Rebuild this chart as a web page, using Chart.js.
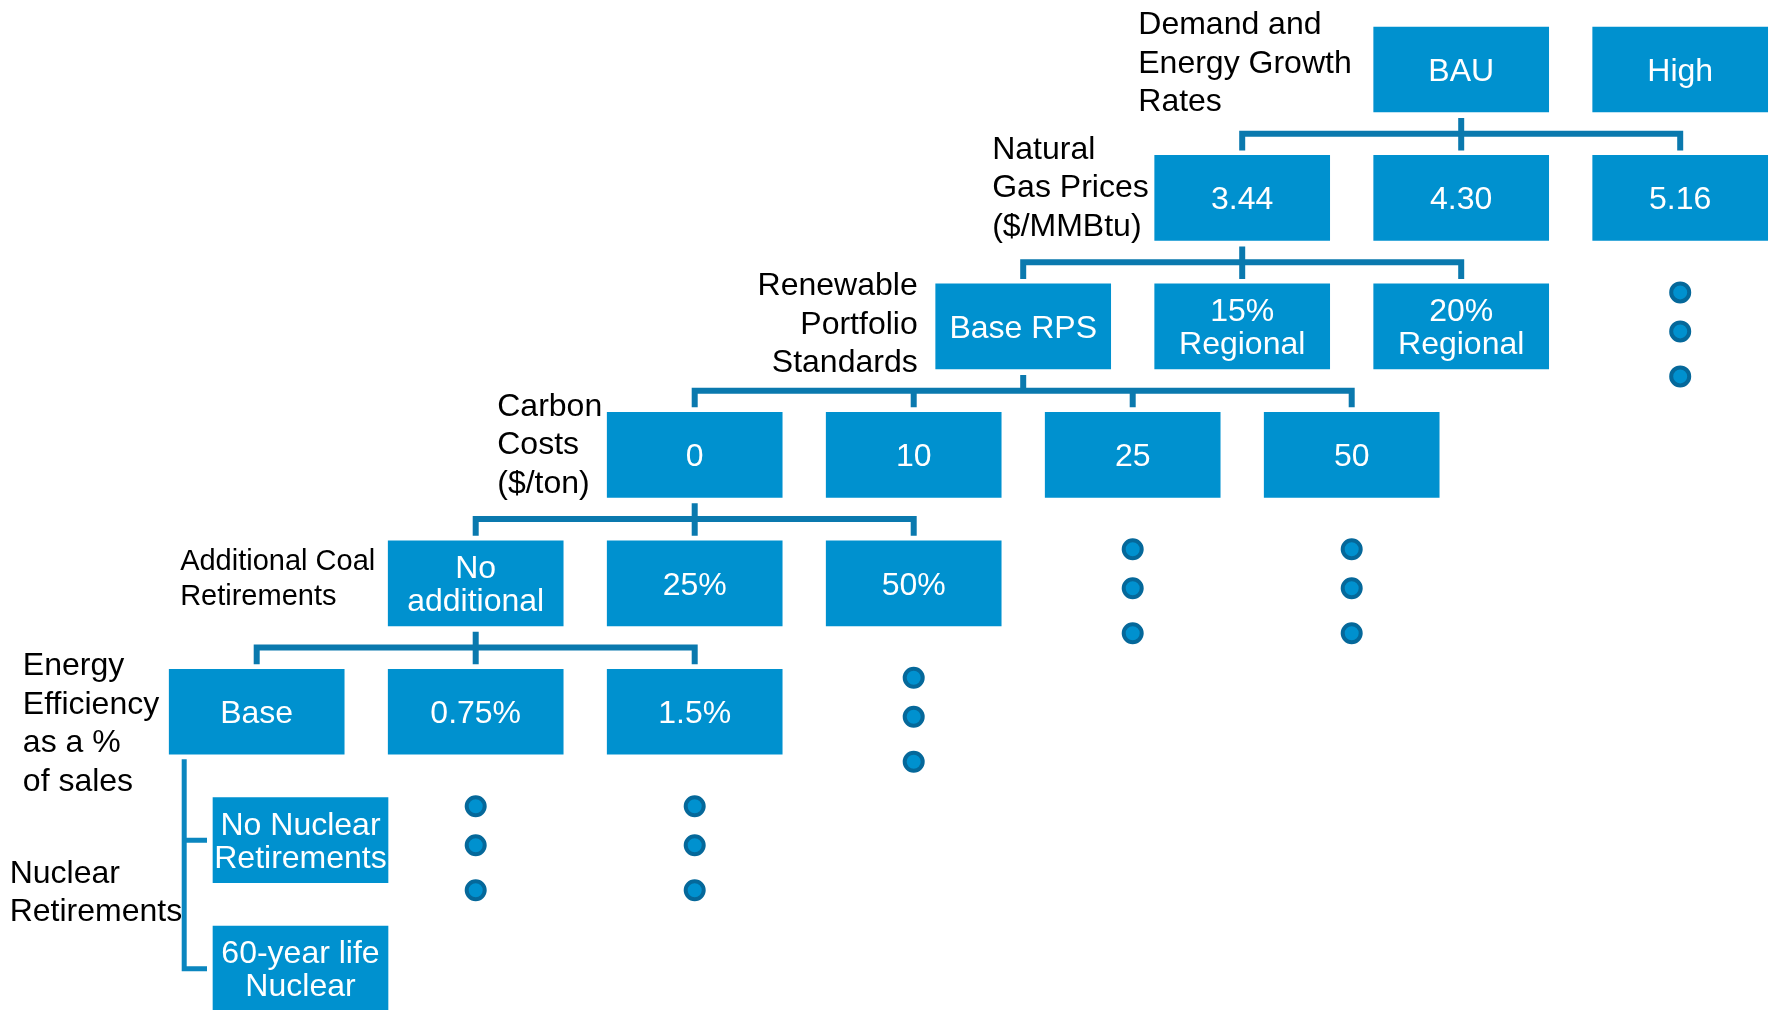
<!DOCTYPE html>
<html>
<head>
<meta charset="utf-8">
<title>Scenario tree</title>
<script src="https://cdn.jsdelivr.net/npm/chart.js@4.4.1/dist/chart.umd.min.js"></script>
<style>
  html, body { margin: 0; padding: 0; background: #fff; }
  #wrap { width: 1773px; height: 1010px; }
</style>
</head>
<body>
<div id="wrap"><canvas id="tree" width="1773" height="1010"></canvas></div>
<script>
// uncertainty dimensions, top to bottom
const levelTitles = [
  ["Demand and", "Energy Growth", "Rates"],
  ["Natural", "Gas Prices", "($/MMBtu)"],
  ["Renewable", "Portfolio", "Standards"],
  ["Carbon", "Costs", "($/ton)"],
  ["Additional Coal", "Retirements"],
  ["Energy", "Efficiency", "as a %", "of sales"],
];
const demandOptions = ["BAU", "High"];
const gasPriceOptions = ["3.44", "4.30", "5.16"];
const rpsOptions = ["Base RPS", "15%\nRegional", "20%\nRegional"];
const carbonOptions = ["0", "10", "25", "50"];
const coalOptions = ["No\nadditional", "25%", "50%"];
const efficiencyOptions = ["Base", "0.75%", "1.5%"];
const nuclearTitle = ["Nuclear", "Retirements"];
const nuclearOptions = ["No Nuclear\nRetirements", "60-year life\nNuclear"];

const levels = [demandOptions, gasPriceOptions, rpsOptions, carbonOptions, coalOptions, efficiencyOptions];

// ---- layout (grid units: one column / one row per step) ----
const FIRST_COL = 5.5;          // where the top row starts
const NUC_SHIFT = 0.2;          // nuclear boxes sit a bit right of "Base"
const COL_PX = 219, ROW_PX = 128.45;
const BOX_W_PX = 175, BOX_H = 85 / ROW_PX;
const X_MIN = -256.7 / COL_PX, X_MAX = X_MIN + 1773 / COL_PX;
const Y_MIN = -69.5 / ROW_PX, Y_MAX = Y_MIN + 1010 / ROW_PX;
const TEXT_NUDGE = 2.5;         // 'middle' baseline sits a touch high

const BOX_BLUE = "#0091cf";
const LINE_BLUE = "#0a79ae";
const DOT_EDGE = "#05689a";
const FONT = (s) => s + 'px "Liberation Sans", Arial, sans-serif';

// title placement per level (gap to first box, alignment, vertical nudge)
const titleStyle = [
  { gap: 22, align: "left", dy: -8 },
  { gap: 6, align: "left", dy: -12 },
  { gap: 18, align: "right", dy: -4 },
  { gap: 5, align: "left", dy: -12 },
  { gap: 13, align: "left", dy: -6, size: 29, lh: 35 },
  { gap: 10, align: "left", dy: 10 },
];

// every expanded branch is the first option; its children are centred under it
const nodes = [];
let parentCol = null;
levels.forEach((opts, row) => {
  const start = row === 0 ? FIRST_COL : parentCol - (opts.length - 1) / 2;
  opts.forEach((label, i) => nodes.push({ row, col: start + i, label, idx: i }));
  parentCol = start;
});
const baseCol = parentCol;
nuclearOptions.forEach((label, i) =>
  nodes.push({ row: levels.length + i, col: baseCol + NUC_SHIFT, label, idx: i, nuclear: true }));

const boxData = nodes.map((n) => ({ x: n.col, y: [n.row - BOX_H / 2, n.row + BOX_H / 2] }));

// connectors between each expanded option and its children
const connectorPts = [];
const gapTop = 6 / ROW_PX, gapBottom = 5 / ROW_PX;
for (let row = 1; row < levels.length; row++) {
  const parent = nodes.find((n) => n.row === row - 1 && n.idx === 0);
  const kids = nodes.filter((n) => n.row === row && !n.nuclear);
  const H = row - 0.5;
  const end = row - BOX_H / 2 - gapBottom;
  const first = kids[0].col, last = kids[kids.length - 1].col;
  connectorPts.push({ x: parent.col, y: row - 1 + BOX_H / 2 + gapTop }, { x: parent.col, y: H }, { x: parent.col, y: null });
  connectorPts.push({ x: first, y: end }, { x: first, y: H }, { x: last, y: H }, { x: last, y: end }, { x: last, y: null });
  kids.slice(1, -1).forEach((k) => connectorPts.push({ x: k.col, y: H }, { x: k.col, y: end }, { x: k.col, y: null }));
}

// bracket for the nuclear options
const BRACKET_COL = baseCol - BOX_W_PX / 2 / COL_PX + 15 / COL_PX;
const TICK_END = baseCol + NUC_SHIFT - BOX_W_PX / 2 / COL_PX - 6 / COL_PX;
const nucRows = nodes.filter((n) => n.nuclear).map((n) => n.row);
const bracketPts = [
  { x: BRACKET_COL, y: levels.length - 1 + BOX_H / 2 + 5 / ROW_PX },
  { x: BRACKET_COL, y: nucRows[1] },
  { x: TICK_END, y: nucRows[1] },
  { x: TICK_END, y: null },
  { x: BRACKET_COL, y: nucRows[0] },
  { x: TICK_END, y: nucRows[0] },
];

// three dots under options whose subtree is not drawn
const dotPts = [];
const dotOffsets = [-34 / ROW_PX, 5 / ROW_PX, 50 / ROW_PX];
nodes.filter((n) => !n.nuclear && n.idx > 0).forEach((n) => {
  const below = nodes.filter((m) => m.row === n.row + 1);
  if (below.some((m) => Math.abs(m.col - n.col) < 0.7)) return;
  dotOffsets.forEach((d) => dotPts.push({ x: n.col, y: n.row + 1 + d }));
});

const labelPlugin = {
  id: "treeLabels",
  afterDatasetsDraw(chart) {
    const { ctx } = chart;
    const sx = chart.scales.x, sy = chart.scales.y;
    const bars = chart.getDatasetMeta(0).data;
    ctx.save();
    ctx.textBaseline = "middle";

    // captions inside boxes
    ctx.fillStyle = "#fff";
    ctx.textAlign = "center";
    ctx.font = FONT(32);
    bars.forEach((bar, i) => {
      const lines = nodes[i].label.split("\n");
      const c = bar.getCenterPoint();
      lines.forEach((ln, k) =>
        ctx.fillText(ln, c.x, c.y + TEXT_NUDGE + (k - (lines.length - 1) / 2) * 33));
    });

    // dimension titles
    ctx.fillStyle = "#000";
    const drawBlock = (lines, size, lh, align, xAnchor, cy) => {
      ctx.font = FONT(size);
      const maxW = Math.max(...lines.map((l) => ctx.measureText(l).width));
      ctx.textAlign = align;
      const tx = align === "left" ? xAnchor - maxW : xAnchor;
      lines.forEach((ln, k) =>
        ctx.fillText(ln, tx, cy + TEXT_NUDGE + (k - (lines.length - 1) / 2) * lh));
    };
    levelTitles.forEach((lines, row) => {
      const st = titleStyle[row];
      const first = nodes.find((n) => n.row === row && n.idx === 0);
      const boxLeft = sx.getPixelForValue(first.col) - BOX_W_PX / 2;
      drawBlock(lines, st.size || 32, st.lh || 38.4, st.align, boxLeft - st.gap,
        sy.getPixelForValue(row) + st.dy);
    });
    drawBlock(nuclearTitle, 32, 38.4, "left", sx.getPixelForValue(BRACKET_COL) - 2,
      sy.getPixelForValue((nucRows[0] + nucRows[1]) / 2) - 14);
    ctx.restore();
  },
};

new Chart(document.getElementById("tree"), {
  type: "bar",
  data: {
    datasets: [
      { type: "bar", data: boxData, backgroundColor: BOX_BLUE, borderWidth: 0, barThickness: BOX_W_PX, order: 3 },
      { type: "line", data: connectorPts, borderColor: LINE_BLUE, borderWidth: 6, pointRadius: 0,
        borderCapStyle: "butt", borderJoinStyle: "miter", spanGaps: false, tension: 0, order: 2 },
      { type: "line", data: bracketPts, borderColor: "#0b86bf", borderWidth: 5, pointRadius: 0,
        borderCapStyle: "butt", borderJoinStyle: "miter", spanGaps: false, tension: 0, order: 2 },
      { type: "line", data: dotPts, showLine: false, pointRadius: 9, pointBorderWidth: 4,
        pointBackgroundColor: BOX_BLUE, pointBorderColor: DOT_EDGE, order: 1 },
    ],
  },
  options: {
    responsive: false,
    animation: false,
    events: [],
    layout: { padding: 0, autoPadding: false },
    plugins: { legend: { display: false }, tooltip: { enabled: false } },
    scales: {
      x: { type: "linear", min: X_MIN, max: X_MAX, offset: false, display: false },
      y: { type: "linear", min: Y_MIN, max: Y_MAX, reverse: true, display: false },
    },
  },
  plugins: [labelPlugin],
});
</script>
</body>
</html>
